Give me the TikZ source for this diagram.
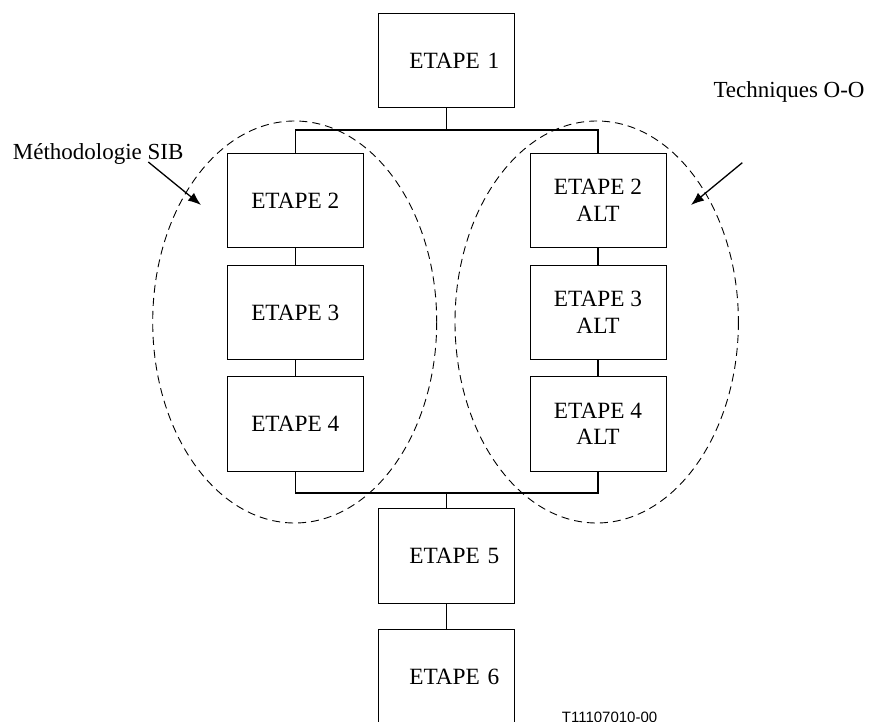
\documentclass[tikz,border=0pt]{standalone}
\usepackage{fontspec}
\setmainfont{Liberation Serif}
\newfontfamily\codefont{Liberation Sans}
\usetikzlibrary{arrows.meta}

\tikzset{
  stepbox/.style={draw, line width=1pt, rectangle, inner sep=0pt,
    minimum width=136pt, minimum height=94.5pt, align=center,
    font=\fontsize{23.3}{26.7}\selectfont},
  offsetbox/.style={stepbox, text width=106pt, align=right},
  link/.style={line width=1.4pt},
  bus/.style={line width=1.1pt},
  groupline/.style={line width=0.9pt, dash pattern=on 8pt off 5pt},
  pointer/.style={line width=1.3pt, -{Latex[length=13pt,width=10pt]}},
  caption/.style={inner sep=0pt, anchor=base west,
    font=\fontsize{23}{26}\selectfont},
}

\begin{document}
\begin{tikzpicture}[x=1pt,y=-1pt]
\useasboundingbox (0,0) rectangle (870,722);

% main chain
\node[offsetbox] (e1) at (446.3,60.5) {ETAPE 1};
\node[offsetbox] (e5) at (446.3,556.2) {ETAPE 5};
\node[offsetbox] (e6) at (446.3,677) {ETAPE 6};

% SIB branch
\node[stepbox] (l2) at (295.3,200.3) {ETAPE 2};
\node[stepbox] (l3) at (295.3,312.5) {ETAPE 3};
\node[stepbox] (l4) at (295.3,423.8) {ETAPE 4};

% O-O branch
\node[stepbox] (r2) at (598,200.3) {ETAPE 2\\ALT};
\node[stepbox] (r3) at (598,312.5) {ETAPE 3\\ALT};
\node[stepbox] (r4) at (598,423.8) {ETAPE 4\\ALT};

% split and join points
\coordinate (split) at (446.3,130);
\coordinate (join) at (446.3,493);

\draw[link] (e1.south) -- (split);
\draw[bus] (l2.north) |- (split) -| (r2.north);
\draw[link] (l2) -- (l3);
\draw[link] (l3) -- (l4);
\draw[link] (r2) -- (r3);
\draw[link] (r3) -- (r4);
\draw[bus] (l4.south) |- (join) -| (r4.south);
\draw[link] (join) -- (e5.north);
\draw[link] (e5) -- (e6);

% grouping ellipses
\draw[groupline] (294.7,322) ellipse [x radius=142, y radius=201];
\draw[groupline] (596.7,322) ellipse [x radius=141.7, y radius=201];

% annotations
\node[caption] (sib) at (12.7,159.3) {Méthodologie SIB};
\node[caption] (oo) at (713.3,97.3) {Techniques O-O};

\coordinate (sibfrom) at (148.3,162);
\coordinate (sibto) at (201,205);
\coordinate (oofrom) at (742.3,162.7);
\coordinate (ooto) at (691,205);
\draw[pointer] (sibfrom) -- (sibto);
\draw[pointer] (oofrom) -- (ooto);

% figure reference
\node[inner sep=0pt, anchor=base west, font=\codefont\fontsize{15}{17}\selectfont]
  (ref) at (561.7,722.6) {T11107010-00};
\end{tikzpicture}
\end{document}
